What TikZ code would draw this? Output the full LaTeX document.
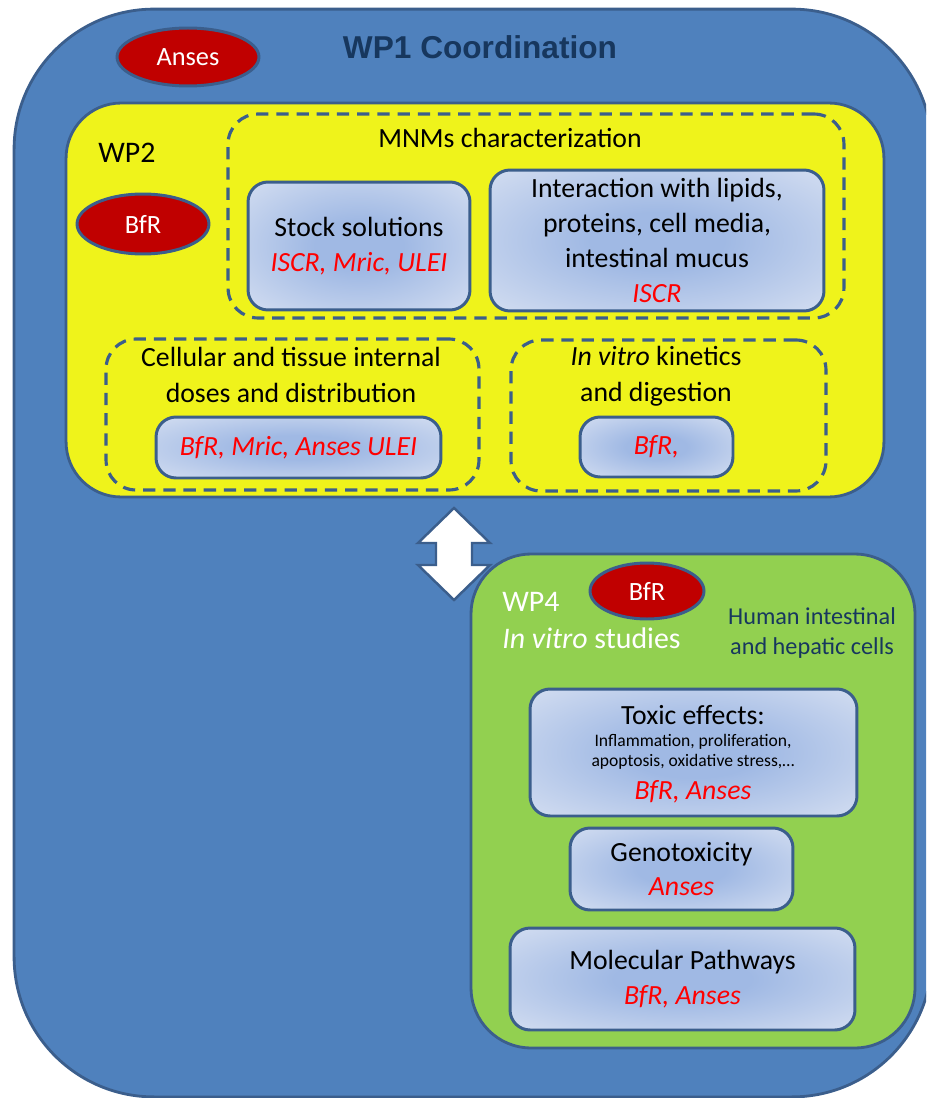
\documentclass[tikz,border=0pt]{standalone}
\usepackage{fontspec}
\setmainfont{Carlito}
\newfontfamily\arialfont{Liberation Sans}
\usepackage{tikz}
\usetikzlibrary{positioning,shapes.geometric}
\usepackage{xcolor}
\definecolor{wpBlue}{HTML}{4F81BD}
\definecolor{wpEdge}{HTML}{3B5E8C}
\definecolor{wpYellow}{HTML}{EFF31B}
\definecolor{wpGreen}{HTML}{92D050}
\definecolor{wpRed}{HTML}{C00000}
\definecolor{wpNavy}{HTML}{17375E}
\definecolor{taskIn}{HTML}{A0B9E4}
\definecolor{taskOut}{HTML}{DFE6F4}
\definecolor{who}{HTML}{FF0000}
\pgfdeclareradialshading{taskshade}{\pgfpoint{0bp}{0bp}}{%
    color(0bp)=(taskIn); color(10bp)=(taskIn); color(42bp)=(taskOut); color(50bp)=(taskOut)}
\newcommand{\txtbody}{\fontsize{15.8}{19.8}\selectfont}
\newcommand{\txtsmall}{\fontsize{10}{11.4}\selectfont}
\newcommand{\who}[1]{\textcolor{who}{\textit{#1}}}
\tikzset{
    frame/.style={rectangle,draw=wpEdge,line width=1.6pt},
    partner/.style={ellipse,draw=wpEdge,line width=1.7pt,fill=wpRed,text=white,inner sep=0pt,font=\fontsize{15}{18}\selectfont},
    taskgroup/.style={rectangle,draw=wpEdge,line width=1.8pt,dash pattern=on 7pt off 4.5pt,rounded corners=0.6cm},
    task/.style={rectangle,draw=wpEdge,line width=1.7pt,rounded corners=0.4cm,shading=taskshade,align=center,font=\txtbody,inner sep=0pt},
    label/.style={align=center,font=\txtbody,inner sep=0pt},
    wplabel/.style={anchor=west,inner sep=0pt,font=\fontsize{17}{20}\selectfont}
}

\begin{document}
\begin{tikzpicture}[x=0.02cm,y=-0.02cm]
    \useasboundingbox (0,0) rectangle (926,1098);
    \clip (0,0) rectangle (926,1098);

    % WP1 coordination frame
    \node[frame,fill=wpBlue,rounded corners=2.8cm,minimum width=18.36cm,minimum height=21.76cm] (wp1) at (473,553) {};
    \node[partner,minimum width=2.84cm,minimum height=1.16cm] (anses) at (188,57) {Anses};
    \node[inner sep=0pt,text=wpNavy,font={\arialfont\bfseries\fontsize{18}{21}\selectfont}] (wp1title) at (480,47) {WP1 Coordination};

    % WP2 frame
    \node[frame,fill=wpYellow,rounded corners=1.1cm,minimum width=16.36cm,minimum height=7.88cm] (wp2) at (475,300) {};
    \node[wplabel] (wp2title) at (98,153) {WP2};
    \node[partner,minimum width=2.64cm,minimum height=1.2cm] (bfr2) at (143,224) {BfR};

    % MNMs characterization
    \node[taskgroup,minimum width=12.32cm,minimum height=4.08cm] (mnms) at (536,216) {};
    \node[label] (mnmstitle) at (510,138) {MNMs characterization};
    \node[task,minimum width=4.44cm,minimum height=2.56cm] (stock) at (359,246)
        {Stock solutions\\ \who{ISCR, Mric, ULEI}};
    \node[task,minimum width=6.68cm,minimum height=2.82cm] (interact) at (657,240.5)
        {Interaction with lipids,\\ proteins, cell media,\\ intestinal mucus\\ \who{ISCR}};

    % Internal doses
    \node[taskgroup,minimum width=7.46cm,minimum height=3.02cm] (doses) at (292.5,414.5) {};
    \node[label,font=\fontsize{15.8}{20.5}\selectfont] (dosestitle) at (291,375)
        {Cellular and tissue internal\\ doses and distribution};
    \node[task,minimum width=5.7cm,minimum height=1.22cm] (dosesby) at (298.5,447.5) {\who{BfR, Mric, Anses ULEI}};

    % Kinetics and digestion
    \node[taskgroup,minimum width=6.3cm,minimum height=3.02cm] (kinetics) at (668.5,415.5) {};
    \node[label,font=\fontsize{15.8}{20.5}\selectfont] (kineticstitle) at (656,376)
        {\textit{In vitro} kinetics\\ and digestion};
    \node[task,minimum width=3.06cm,minimum height=1.2cm] (kineticsby) at (656.5,447) {\who{BfR,}};

    % Exchange WP2 / WP4
    \draw[draw=wpEdge,line width=1.4pt,fill=white,line join=miter]
        (454,508) -- (490,543) -- (472,543) -- (472,565) -- (490,565) -- (454,600)
        -- (418,565) -- (436,565) -- (436,543) -- (418,543) -- cycle;

    % WP4 frame
    \node[frame,fill=wpGreen,rounded corners=1.2cm,minimum width=8.88cm,minimum height=9.88cm] (wp4) at (693,801) {};
    \node[partner,minimum width=2.28cm,minimum height=1.12cm] (bfr4) at (647,591) {BfR};
    \node[wplabel,text=white] (wp4title) at (502,602) {WP4};
    \node[wplabel,text=white] (wp4sub) at (502,638) {\textit{In vitro} studies};
    \node[label,text=wpNavy,font=\fontsize{13.8}{17}\selectfont] (cells) at (812,633)
        {Human intestinal\\ and hepatic cells};

    \node[task,minimum width=6.54cm,minimum height=2.54cm] (toxic) at (693.5,752.5) {};
    \node[label] (toxictitle) at (693,715) {Toxic effects:};
    \node[label,font=\txtsmall] (toxiclist) at (693,752) {Inflammation, proliferation,\\ apoptosis, oxidative stress,\dots};
    \node[label] (toxicby) at (693,792) {\who{BfR, Anses}};

    \node[task,minimum width=4.46cm,minimum height=1.64cm] (geno) at (681.5,869)
        {Genotoxicity\\ \who{Anses}};
    \node[task,minimum width=6.9cm,minimum height=2.04cm] (pathways) at (682.5,979)
        {Molecular Pathways\\ \who{BfR, Anses}};
\end{tikzpicture}
\end{document}
